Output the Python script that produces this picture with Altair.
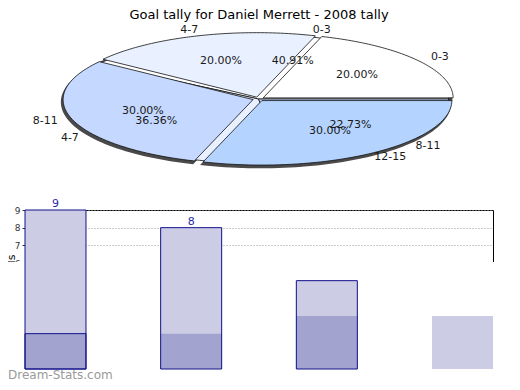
import altair as alt
import pandas as pd

# ---------------- data ----------------
chart_title = "Goal tally for Daniel Merrett - 2008 tally"
categories = ["0-3", "4-7", "8-11", "12-15"]
series_a = [9, 8, 5]          # first tally (three ranges)
series_b = [2, 2, 3, 3]       # second tally (four ranges)
slice_colors = ["#ffffff", "#e9f0ff", "#c5d8ff", "#b4d4ff"]
axis_values = [6, 7, 8, 9]

# ---------------- styling / layout constants ----------------
LIGHT, DARK, NAVY = "#ccccE4", "#a3a3d0", "#10108a"
PW, PH = 468, 159
PAD = {"left": 17, "top": 202, "right": 19, "bottom": 13}
CX, CY = 258.5 - 25, 99 - 210        # pie centre relative to plot origin (px)
RX, RY = 190.0, 64.5                 # ellipse radii (px)
EXPLODE = 0.03
N = 60
KX_PCT, KY_PCT = 0.64, 0.62
KX_CAT, KY_CAT = 1.18, 1.12

pie_rows = []
for i, (c, v) in enumerate(zip(categories, series_a)):
    pie_rows.append({"pie": "A", "cat": c, "value": v, "idx": i})
for i, (c, v) in enumerate(zip(categories, series_b)):
    pie_rows.append({"pie": "B", "cat": c, "value": v, "idx": i})
pie_df = pd.DataFrame(pie_rows)

bar_df = pd.DataFrame({
    "cat": categories,
    "idx": list(range(len(categories))),
    "a": series_a + [None] * (len(categories) - len(series_a)),
    "b": series_b,
})

ylo = (CY - PH) / RY
xs_pie = alt.Scale(domain=[-CX / RX, (PW - CX) / RX], nice=False, zero=False)
ys_pie = alt.Scale(domain=[ylo, ylo + PH / RY], nice=False, zero=False)
col_scale = alt.Scale(domain=categories, range=slice_colors)

pie_base = (
    alt.Chart(pie_df)
    .transform_window(cum="sum(value)", groupby=["pie"],
                      sort=[alt.SortField("idx")], frame=[None, 0])
    .transform_joinaggregate(total="sum(value)", groupby=["pie"])
    .transform_calculate(
        a0="2*PI*(datum.cum-datum.value)/datum.total",
        a1="2*PI*datum.cum/datum.total",
    )
    .transform_calculate(
        am="(datum.a0+datum.a1)/2",
        ex=f"datum.pie == 'B' ? {EXPLODE} : 0",
    )
)

poly = (
    pie_base
    .transform_calculate(k=f"sequence(0, {N + 3})")
    .transform_flatten(["k"])
    .transform_calculate(
        ang=f"datum.a0 + (datum.a1-datum.a0)*clamp((datum.k-1)/{N}, 0, 1)",
        edge=f"datum.k > 0 && datum.k < {N + 2}",
    )
    .transform_calculate(
        px="datum.ex*cos(datum.am) + (datum.edge ? cos(datum.ang) : 0)",
        py="datum.ex*sin(datum.am) + (datum.edge ? sin(datum.ang) : 0)",
    )
)

pxy = dict(
    x=alt.X("px:Q", scale=xs_pie, axis=None),
    y=alt.Y("py:Q", scale=ys_pie, axis=None),
    order=alt.Order("k:Q"),
    detail="cat:N",
)

shadow = poly.transform_filter("datum.pie == 'B'").mark_line(
    filled=True, fill="#4a4a4a", stroke="#4a4a4a", strokeWidth=1.5,
    xOffset=-1.5, yOffset=2.5
).encode(**pxy)

pie_a = poly.transform_filter("datum.pie == 'A'").mark_line(
    filled=True, stroke="#111111", strokeWidth=0.8
).encode(color=alt.Color("cat:N", scale=col_scale, legend=None), **pxy)

pie_b = poly.transform_filter("datum.pie == 'B'").mark_line(
    filled=True, stroke="#111111", strokeWidth=0.8
).encode(color=alt.Color("cat:N", scale=col_scale, legend=None), **pxy)


def pie_labels(kx, ky, text_expr):
    return (
        pie_base.transform_calculate(
            lx=f"{kx}*cos(datum.am)", ly=f"{ky}*sin(datum.am)", txt=text_expr
        )
        .mark_text(fontSize=11, color="#1a1a1a", align="center", baseline="middle")
        .encode(
            x=alt.X("lx:Q", scale=xs_pie, axis=None),
            y=alt.Y("ly:Q", scale=ys_pie, axis=None),
            text="txt:N",
        )
    )


pct_labels = pie_labels(KX_PCT, KY_PCT, "format(100*datum.value/datum.total, '.2f') + '%'")
cat_labels = pie_labels(KX_CAT, KY_CAT, "datum.cat")

# ---------------- bars ----------------
PAD_INNER = 1 - 61 / (PW / (4 - 0.5504))
xs_bar = alt.Scale(type="band", domain=categories, paddingInner=PAD_INNER, paddingOuter=0)
ys_bar = alt.Scale(domain=[0, 9], nice=False, zero=True)
bx = alt.X("cat:N", sort=categories, scale=xs_bar, axis=None)

y_axis = alt.Axis(
    values=axis_values, labelFontSize=9, labelColor="#333333", labelPadding=2,
    tickSize=3, tickColor="#333333", domain=False,
    grid=True, gridDash=[1, 2], gridColor="#999999",
    title="Goals", titleFontSize=11, titleFontWeight="normal",
    titleX=-9, titleY=59.5, titleBaseline="bottom", titleAlign="center",
)

bars_base = alt.Chart(bar_df).transform_calculate(
    v="isValid(datum.a) ? datum.a : datum.b",
    outlined="isValid(datum.a)",
)

light_fill = bars_base.mark_bar(color=LIGHT).encode(
    x=bx, y=alt.Y("v:Q", scale=ys_bar, axis=y_axis)
)

dark_fill = bars_base.transform_filter("isValid(datum.a)").mark_bar(
    color=DARK, stroke=NAVY, strokeWidth=1
).encode(
    x=bx, y=alt.Y("b:Q", scale=ys_bar, axis=None),
    strokeOpacity=alt.condition("datum.idx == 0", alt.value(1), alt.value(0)),
)

light_outline = bars_base.transform_filter("isValid(datum.a)").mark_bar(
    fill="transparent", stroke=NAVY, strokeWidth=1
).encode(x=bx, y=alt.Y("v:Q", scale=ys_bar, axis=None))

value_text = bars_base.transform_filter("isValid(datum.a)").mark_text(
    fontSize=11, color="#2a2aa8", baseline="bottom", dy=-1
).encode(
    x=alt.X("cat:N", sort=categories, scale=xs_bar, axis=None, bandPosition=0.5),
    y=alt.Y("a:Q", scale=ys_bar, axis=None), text="a:Q",
)

mask = alt.Chart(pd.DataFrame({"m": [0]})).mark_rect(color="white").encode(
    x=alt.value(-40), x2=alt.value(PW + 30), y=alt.value(52), y2=alt.value(PH + 30)
)

watermark = alt.Chart(pd.DataFrame({"w": ["Dream-Stats.com"]})).mark_text(
    fontSize=12, color="#9a9a9a", align="left", baseline="bottom"
).encode(x=alt.value(-17), y=alt.value(PH + 13), text="w:N")

chart = alt.layer(
    shadow, pie_a, pie_b, pct_labels, cat_labels,
    value_text, mask, light_fill, dark_fill, light_outline, watermark,
).resolve_scale(
    x="independent", y="independent"
).properties(
    width=PW, height=PH,
    autosize=alt.AutoSizeParams(type="none"),
    padding=PAD,
    title=alt.TitleParams(chart_title, fontSize=13, fontWeight="normal",
                          font="DejaVu Sans", color="#000000", offset=2),
).configure(
    font="DejaVu Sans"
).configure_view(
    stroke="black", strokeWidth=1
)

chart.save("out.html", embed_options={"renderer": "svg", "actions": False})
